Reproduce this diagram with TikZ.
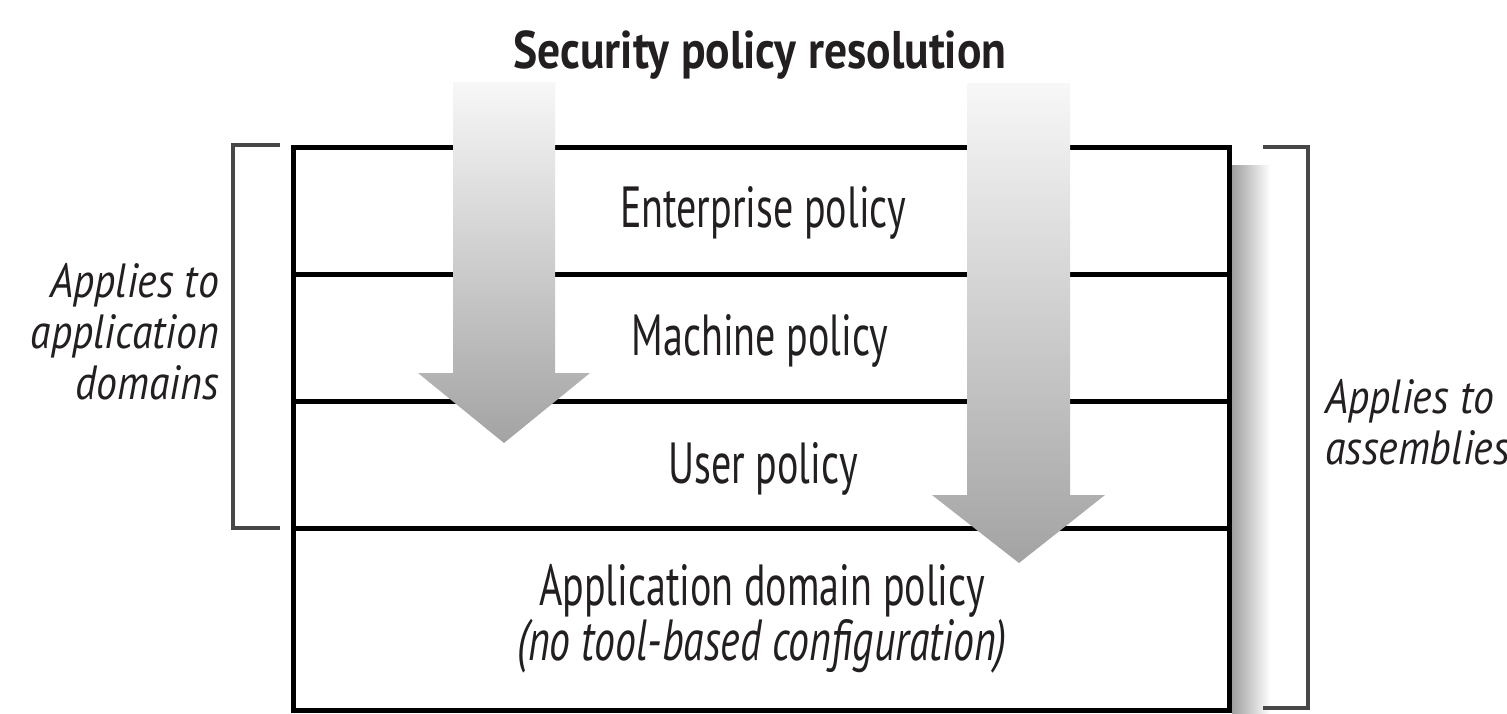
\documentclass[tikz,border=0pt]{standalone}
\usepackage{fontspec}
\newfontfamily\condfont{PT Sans}[FakeStretch=0.69]
\newfontfamily\noteit{PT Sans}[FakeStretch=0.72]
\newfontfamily\sidefont{PT Sans}[FakeStretch=0.87]
\newfontfamily\titlefont{PT Sans}[FakeStretch=0.86]
\definecolor{ink}{HTML}{231F20}
\definecolor{brack}{HTML}{474747}
\begin{document}
\begin{tikzpicture}[x=1pt,y=-1pt,
  layer/.style={draw=black, line width=5pt, minimum width=936pt, inner sep=0pt, outer sep=0pt, anchor=north},
  lbl/.style={font=\condfont\fontsize{58}{50}\selectfont, text=ink, inner sep=0pt, anchor=base},
  side/.style={font=\sidefont\itshape\fontsize{48}{51}\selectfont, text=ink, inner sep=0pt, align=right, anchor=east},
  bracket/.style={draw=brack, line width=4pt},
  flow/.style={top color=black!3, bottom color=black!36}]
\useasboundingbox (0,0) rectangle (1507,713);
\fill[white] (0,0) rectangle (1507,713);

% soft shadow to the right of the stack
\shade[left color=black!38, right color=white] (1232,165) rectangle (1270,713);

% the four policy levels
\node[layer, minimum height=127pt] (ent) at (761,147) {};
\node[layer, minimum height=127pt] (mach) at (ent.south) {};
\node[layer, minimum height=127pt] (user) at (mach.south) {};
\node[layer, minimum height=182pt] (app) at (user.south) {};

% resolution arrows
\shade[flow] (453,82) -- (555,82) -- (555,373) -- (590,373) -- (504,443) -- (418,373) -- (453,373) -- cycle;
\shade[flow] (967,83) -- (1070,83) -- (1070,495) -- (1105,495) -- (1019,563) -- (932,495) -- (967,495) -- cycle;

% level names
\node[lbl] (entT) at (763,227) {Enterprise policy};
\node[lbl] (machT) at (760,355) {Machine policy};
\node[lbl] (userT) at (763,483) {User policy};
\node[lbl, align=center] (appT) at (762,660)
  {Application domain policy\\{\noteit\itshape(no tool-based configuration)}};

% title
\node[lbl, font=\titlefont\bfseries\fontsize{53}{50}\selectfont] (title) at (760,68) {Security policy resolution};

% brackets
\draw[bracket] (280,145) -- (233,145) -- (233,528) -- (280,528);
\draw[bracket] (1263,147) -- (1308,147) -- (1308,708) -- (1263,708);

% bracket captions
\node[side] (leftT) at (219,332) {Applies to\\application\\domains};
\node[side, align=left, anchor=west] (rightT) at (1325,422) {Applies to\\assemblies};
\end{tikzpicture}
\end{document}
